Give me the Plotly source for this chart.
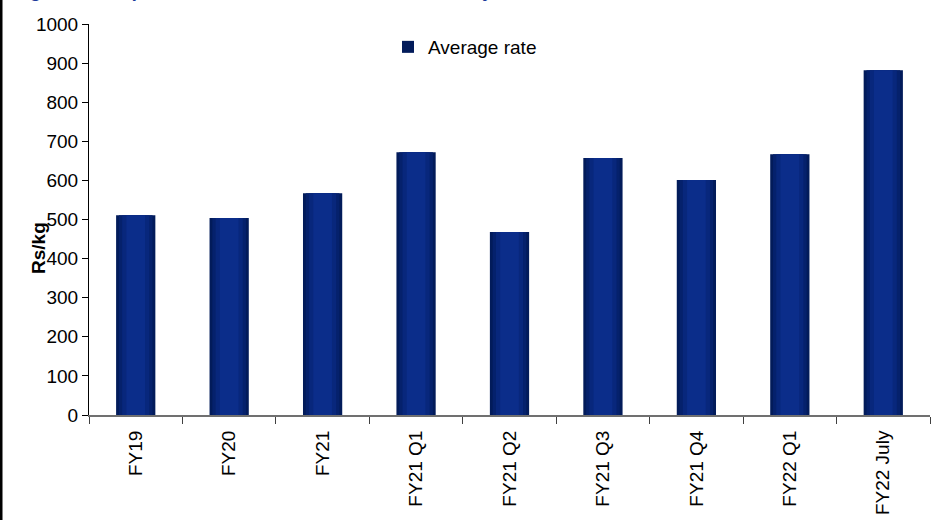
import plotly.graph_objects as go

# Average realised rate by period (Rs/kg)
periods = ["FY19", "FY20", "FY21", "FY21 Q1", "FY21 Q2", "FY21 Q3", "FY21 Q4", "FY22 Q1", "FY22 July"]
avg_rate = [511, 504, 567, 672, 468, 657, 601, 667, 882]
y_ticks = [0, 100, 200, 300, 400, 500, 600, 700, 800, 900, 1000]

FONT = "Liberation Sans, Arial, sans-serif"
FS = 19

fig = go.Figure()

# Stacked layers of decreasing width give the bars a shaded, cylindrical look
layers = [
    (0.42, "#021b5a"),
    (0.36, "#05216c"),
    (0.29, "#08277c"),
    (0.20, "#0b2d8a"),
]
for i, (w, col) in enumerate(layers):
    fig.add_trace(go.Bar(
        x=periods, y=avg_rate, width=w,
        marker=dict(color=col, line=dict(width=0)),
        name="Average rate", showlegend=(i == 0),
        hoverinfo="skip" if i else None,
    ))

W, H = 944, 520
L, R, T, B = 89, 14, 24, 105
pw, ph = W - L - R, H - T - B

fig.update_layout(
    width=W, height=H,
    margin=dict(l=L, r=R, t=T, b=B, pad=0, autoexpand=False),
    barmode="overlay",
    paper_bgcolor="white", plot_bgcolor="white",
    font=dict(family=FONT, size=FS, color="black"),
    showlegend=True,
    legend=dict(
        x=(388 - L) / pw, y=1 - (28 - T) / ph, xanchor="left", yanchor="top",
        bgcolor="rgba(0,0,0,0)", font=dict(size=FS),
        itemwidth=30, tracegroupgap=0,
    ),
    xaxis=dict(
        type="category", tickangle=-90, tickson="boundaries",
        ticks="outside", ticklen=7, tickcolor="#404040", tickwidth=1,
        ticklabelstandoff=6, automargin=False,
        showline=True, linecolor="#707070", linewidth=2,
        showgrid=False, tickfont=dict(size=FS),
    ),
    yaxis=dict(
        range=[0, 1000], tickvals=y_ticks, automargin=False,
        ticks="outside", ticklen=6, tickcolor="black", tickwidth=1,
        showline=True, linecolor="black", linewidth=1,
        showgrid=False, zeroline=False, tickfont=dict(size=FS),
    ),
)

# Axis title placed beside the tick labels
fig.add_annotation(
    text="<b>Rs/kg</b>", textangle=-90, showarrow=False,
    xref="paper", yref="paper",
    x=(38 - L) / pw, y=1 - (248 - T) / ph,
    xanchor="center", yanchor="middle",
    font=dict(family=FONT, size=FS, color="black"),
)

# Figure caption running off the top edge of the page
fig.add_annotation(
    text="<b><i>Figure 10: Export realisation at all-time record in July</i></b>",
    showarrow=False, xref="paper", yref="paper",
    x=(12 - L) / pw, y=1 + (T - 3) / ph,
    xanchor="left", yanchor="bottom",
    font=dict(family=FONT, size=FS, color="#1c3a9a"),
)

# Left page border
fig.add_shape(
    type="line", xref="paper", yref="paper",
    x0=(1 - L) / pw, x1=(1 - L) / pw,
    y0=-(B + 5) / ph, y1=1 + (T + 5) / ph,
    line=dict(color="black", width=3),
)

fig.write_html("out.html")
